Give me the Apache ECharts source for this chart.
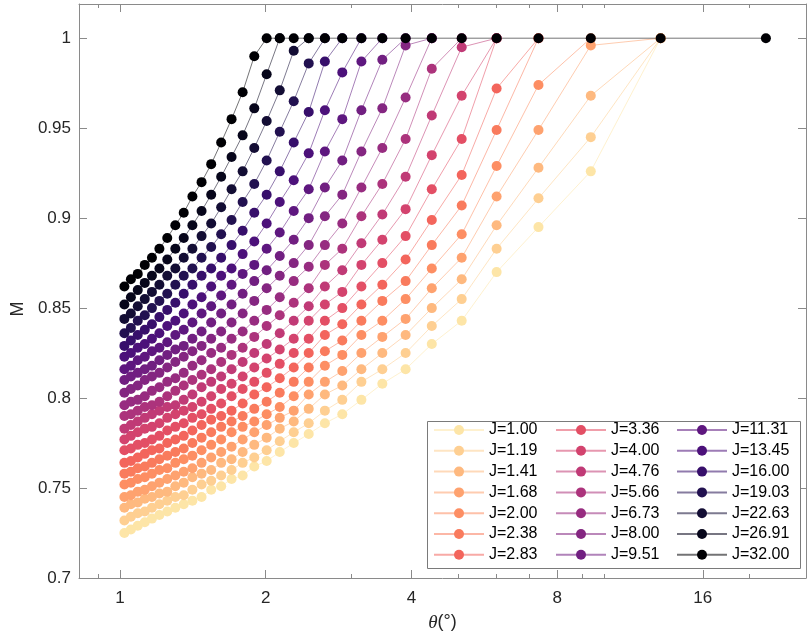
<!DOCTYPE html>
<html>
<head>
<meta charset="utf-8">
<title>M vs theta</title>
<script src="https://cdn.jsdelivr.net/npm/echarts@6.0.0/dist/echarts.min.js"></script>
<style>
  html, body { margin: 0; padding: 0; background: #ffffff; }
  #chart { width: 808px; height: 637px; }
</style>
</head>
<body>
<div id="chart"></div>
<script>
// theta grid (degrees), shared by every curve
const thetaValues = [
  1.021, 1.053, 1.088, 1.125, 1.164, 1.206, 1.252, 1.301, 1.354, 1.411,
  1.474, 1.543, 1.618, 1.700, 1.792, 1.894, 2.009, 2.138, 2.285, 2.454,
  2.650, 2.879, 3.153, 3.483, 3.891, 4.407, 5.081, 5.999, 7.321, 9.390,
  13.09, 21.60
];

const jLabels = [
  "J=1.00", "J=1.19", "J=1.41", "J=1.68", "J=2.00", "J=2.38", "J=2.83",
  "J=3.36", "J=4.00", "J=4.76", "J=5.66", "J=6.73", "J=8.00", "J=9.51",
  "J=11.31", "J=13.45", "J=16.00", "J=19.03", "J=22.63", "J=26.91", "J=32.00"
];

// M for each J, one value per theta (each curve stops where it first hits 1)
const mJ1_00 = [0.725,0.727,0.729,0.731,0.733,0.735,0.737,0.739,0.741,0.743,0.745,0.749,0.751,0.755,0.757,0.762,0.765,0.770,0.775,0.780,0.786,0.791,0.799,0.808,0.816,0.830,0.843,0.870,0.895,0.926,1];
const mJ1_19 = [0.732,0.734,0.736,0.737,0.739,0.741,0.743,0.745,0.746,0.749,0.752,0.754,0.757,0.760,0.764,0.767,0.771,0.776,0.781,0.786,0.793,0.799,0.809,0.816,0.825,0.840,0.855,0.883,0.911,0.945,1];
const mJ1_41 = [0.739,0.741,0.742,0.744,0.745,0.747,0.748,0.751,0.753,0.756,0.758,0.760,0.764,0.766,0.770,0.774,0.778,0.783,0.787,0.794,0.802,0.807,0.816,0.825,0.835,0.850,0.866,0.896,0.928,0.968,1];
const mJ1_68 = [0.745,0.746,0.748,0.749,0.751,0.753,0.755,0.757,0.759,0.761,0.764,0.767,0.770,0.773,0.777,0.781,0.785,0.789,0.793,0.802,0.809,0.815,0.825,0.834,0.844,0.861,0.878,0.912,0.949,0.996,1];
const mJ2_00 = [0.752,0.753,0.755,0.756,0.758,0.760,0.761,0.764,0.766,0.768,0.771,0.774,0.777,0.781,0.784,0.787,0.791,0.795,0.801,0.809,0.818,0.824,0.835,0.843,0.855,0.872,0.891,0.929,0.974,1];
const mJ2_38 = [0.758,0.759,0.761,0.762,0.764,0.766,0.768,0.770,0.772,0.775,0.778,0.781,0.784,0.787,0.790,0.794,0.798,0.803,0.809,0.817,0.826,0.832,0.843,0.854,0.865,0.885,0.907,0.949,1];
const mJ2_83 = [0.764,0.765,0.767,0.769,0.771,0.772,0.775,0.777,0.779,0.782,0.785,0.788,0.790,0.793,0.797,0.802,0.806,0.811,0.817,0.825,0.835,0.841,0.852,0.863,0.877,0.899,0.924,0.972,1];
const mJ3_36 = [0.771,0.772,0.774,0.775,0.777,0.779,0.782,0.784,0.786,0.789,0.791,0.794,0.797,0.801,0.805,0.809,0.814,0.819,0.825,0.833,0.843,0.850,0.862,0.875,0.890,0.916,0.944,1];
const mJ4_00 = [0.777,0.779,0.781,0.783,0.784,0.786,0.789,0.791,0.793,0.795,0.798,0.801,0.805,0.808,0.812,0.817,0.822,0.827,0.833,0.843,0.852,0.859,0.874,0.888,0.905,0.935,0.968,1];
const mJ4_76 = [0.783,0.785,0.787,0.789,0.791,0.793,0.795,0.796,0.799,0.802,0.806,0.809,0.812,0.816,0.820,0.825,0.830,0.836,0.843,0.851,0.862,0.871,0.886,0.902,0.923,0.957,0.995,1];
const mJ5_66 = [0.790,0.791,0.793,0.795,0.796,0.798,0.801,0.804,0.807,0.810,0.813,0.816,0.820,0.824,0.828,0.834,0.840,0.846,0.853,0.861,0.874,0.883,0.901,0.919,0.944,0.983,1];
const mJ6_73 = [0.796,0.798,0.799,0.801,0.804,0.806,0.809,0.811,0.814,0.818,0.821,0.825,0.828,0.833,0.837,0.843,0.849,0.856,0.865,0.873,0.885,0.897,0.917,0.939,0.967,1];
const mJ8_00 = [0.803,0.805,0.807,0.810,0.812,0.814,0.817,0.820,0.823,0.826,0.829,0.833,0.837,0.842,0.847,0.854,0.861,0.868,0.875,0.885,0.901,0.913,0.937,0.961,0.996,1];
const mJ9_51 = [0.810,0.812,0.814,0.816,0.818,0.821,0.824,0.827,0.829,0.833,0.837,0.842,0.847,0.852,0.858,0.865,0.871,0.879,0.888,0.900,0.917,0.932,0.960,0.988,1];
const mJ11_31 = [0.816,0.818,0.821,0.823,0.826,0.828,0.831,0.835,0.838,0.842,0.847,0.851,0.857,0.863,0.869,0.874,0.883,0.892,0.904,0.916,0.937,0.955,0.987,1];
const mJ13_45 = [0.823,0.825,0.828,0.830,0.833,0.836,0.840,0.843,0.847,0.852,0.856,0.862,0.868,0.872,0.880,0.887,0.897,0.909,0.921,0.936,0.960,0.981,1];
const mJ16_00 = [0.829,0.832,0.835,0.838,0.841,0.845,0.849,0.853,0.858,0.863,0.868,0.872,0.878,0.885,0.893,0.903,0.913,0.926,0.942,0.959,0.987,1];
const mJ19_03 = [0.836,0.839,0.843,0.846,0.850,0.854,0.858,0.863,0.868,0.872,0.878,0.884,0.891,0.899,0.909,0.919,0.932,0.948,0.965,0.986,1];
const mJ22_63 = [0.844,0.847,0.851,0.855,0.859,0.863,0.868,0.872,0.878,0.883,0.890,0.897,0.906,0.916,0.926,0.939,0.954,0.971,0.993,1];
const mJ26_91 = [0.852,0.856,0.860,0.864,0.868,0.872,0.877,0.883,0.889,0.896,0.904,0.913,0.923,0.934,0.946,0.961,0.980,1];
const mJ32_00 = [0.862,0.866,0.869,0.874,0.878,0.883,0.889,0.896,0.903,0.912,0.920,0.930,0.942,0.955,0.970,0.990,1,1,1,1,1,1,1,1,1,1,1,1,1,1,1,1];

const mSeries = [
  mJ1_00, mJ1_19, mJ1_41, mJ1_68, mJ2_00, mJ2_38, mJ2_83, mJ3_36, mJ4_00, mJ4_76,
  mJ5_66, mJ6_73, mJ8_00, mJ9_51, mJ11_31, mJ13_45, mJ16_00, mJ19_03, mJ22_63,
  mJ26_91, mJ32_00
];

// magma, light to dark
const seriesColors = [
  "#fde5a7", "#fecf92", "#feb97f", "#fea26f", "#fd8e63", "#f97b5d", "#f3655c",
  "#e34f65", "#d3436e", "#c03a76", "#ac337c", "#972c80", "#842681", "#711f81",
  "#5e177f", "#4c117a", "#370f6b", "#221150", "#130d34", "#07061b", "#000004"
];

const xMajorTicks = [1, 2, 4, 8, 16];
const xMinorTicks = [0.9, 3, 5, 6, 7, 9, 10, 20];
const yTicks = [0.7, 0.75, 0.8, 0.85, 0.9, 0.95, 1];

const fontFamily = "'Liberation Sans', Arial, Helvetica, sans-serif";
const axisGray = "#8a8a8a";
const xMin = 0.8227;
const xMax = 26.14;

function xAxisPart(position, ticks, len, showLine, showLabel) {
  return {
    type: "log",
    logBase: 2,
    min: xMin,
    max: xMax,
    position: position,
    axisLine: { show: showLine, lineStyle: { color: axisGray, width: 1 } },
    axisTick: {
      show: true,
      inside: true,
      length: len,
      customValues: ticks,
      lineStyle: { color: axisGray, width: 1 },
    },
    axisLabel: {
      show: showLabel,
      customValues: ticks,
      color: "#262626",
      fontSize: 17,
      fontFamily: fontFamily,
      margin: 12,
      formatter: (v) => String(v),
    },
    splitLine: { show: false },
    minorTick: { show: false },
  };
}

function yAxisPart(position, showLabel) {
  return {
    type: "value",
    min: 0.7,
    max: 1.019,
    position: position,
    axisLine: { show: true, lineStyle: { color: axisGray, width: 1 } },
    axisTick: {
      show: true,
      inside: true,
      length: 8,
      customValues: yTicks,
      lineStyle: { color: axisGray, width: 1 },
    },
    axisLabel: {
      show: showLabel,
      customValues: yTicks,
      color: "#262626",
      fontSize: 17,
      fontFamily: fontFamily,
      margin: 8,
    },
    splitLine: { show: false },
  };
}

function buildSeries() {
  return mSeries.map((vals, k) => ({
    name: jLabels[k],
    type: "line",
    xAxisIndex: 0,
    yAxisIndex: 0,
    data: vals.map((m, i) => [thetaValues[i], m]),
    symbol: "circle",
    symbolSize: 10,
    showSymbol: true,
    itemStyle: { color: seriesColors[k] },
    lineStyle: { color: seriesColors[k], width: 1, opacity: 0.55 },
    emphasis: { disabled: true },
    animation: false,
  }));
}

function buildLegends() {
  const lefts = [433, 555, 676];
  return lefts.map((left, c) => ({
    data: jLabels.slice(c * 7, c * 7 + 7),
    orient: "vertical",
    left: left,
    top: 422,
    padding: 0,
    itemWidth: 50,
    itemHeight: 12.5,
    itemGap: 4.8,
    selectedMode: false,
    textStyle: { fontSize: 16, color: "#000000", fontFamily: fontFamily },
  }));
}

function initChart() {
  const chart = echarts.init(document.getElementById("chart"), null, { renderer: "canvas" });

  const bottomMajor = xAxisPart("bottom", xMajorTicks, 8, true, true);
  bottomMajor.name = "{i|θ}(°)";
  bottomMajor.nameLocation = "middle";
  bottomMajor.nameGap = 35;
  bottomMajor.nameTextStyle = {
    fontSize: 18,
    color: "#262626",
    fontFamily: fontFamily,
    rich: {
      i: { fontSize: 19, fontStyle: "italic", fontFamily: "'Liberation Serif', 'DejaVu Serif', serif", color: "#262626" },
    },
  };

  const leftAxis = yAxisPart("left", true);
  leftAxis.name = "M";
  leftAxis.nameLocation = "middle";
  leftAxis.nameGap = 44;
  // nudge the rotated label a bit lower, as in the original
  leftAxis.nameTextStyle = { fontSize: 18, color: "#262626", fontFamily: fontFamily, padding: [0, 36, 0, 0] };

  const option = {
    animation: false,
    backgroundColor: "#ffffff",
    grid: { left: 79, right: 2, top: 4, bottom: 55 },
    xAxis: [
      bottomMajor,
      xAxisPart("bottom", xMinorTicks, 4, false, false),
      xAxisPart("top", xMajorTicks, 8, true, false),
      xAxisPart("top", xMinorTicks, 4, false, false),
    ],
    yAxis: [leftAxis, yAxisPart("right", false)],
    legend: buildLegends(),
    // legend frame
    graphic: [
      {
        type: "rect",
        left: 427,
        top: 421,
        shape: { width: 373, height: 147 },
        style: { fill: "#ffffff", stroke: "#7a7a7a", lineWidth: 1 },
        z: 1,
      },
    ],
    series: buildSeries(),
  };
  chart.setOption(option);
}

initChart();
</script>
</body>
</html>
